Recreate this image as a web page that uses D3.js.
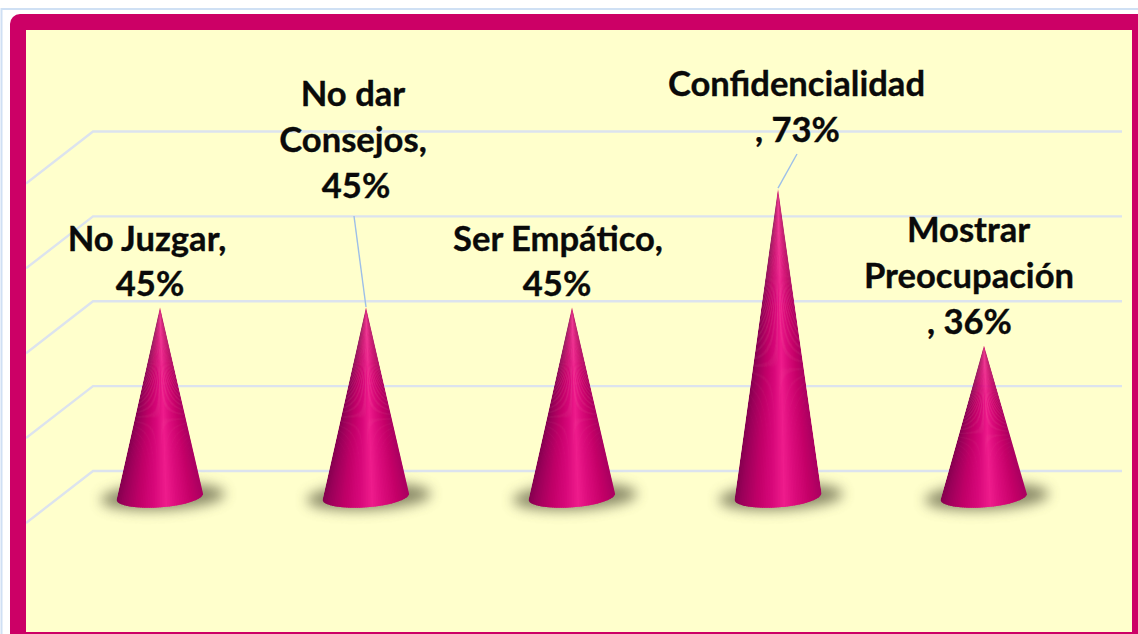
<!DOCTYPE html>
<html><head><meta charset="utf-8">
<script src="https://d3js.org/d3.v7.min.js"></script>
<style>html,body{margin:0;padding:0;background:#fff;overflow:hidden}svg{display:block}
text{font-family:Lato,"Open Sans",sans-serif;font-weight:700;fill:#0a0a0a;stroke:#0a0a0a;stroke-width:.35px}</style></head>
<body><svg id="c" width="1138" height="634"></svg>
<script>
const categories=["No Juzgar","No dar Consejos","Ser Empático","Confidencialidad","Mostrar Preocupación"];
const values=[45,45,45,73,36];
const gridValues=[0,20,40,60,80];
const labelLines=[["No Juzgar,","45%"],["No dar","Consejos,","45%"],["Ser Empático,","45%"],["Confidencialidad",", 73%"],["Mostrar","Preocupación",", 36%"]];

// layout of the labels
const labelBaselines=[[251,296],[106,152,198],[251,296],[96,142],[242,288,334]];
const labelCenters=[[147,150],[353,353,356],[558,557],[796.5,797.5],[968.5,969,969.5]];
const leaderStarts=[null,[354,216],null,[797,154],null];

const svg=d3.select("#c");
const defs=svg.append("defs");
const y=d3.scaleLinear().domain([0,80]).range([500,160.5]);
const x=d3.scaleBand().domain(categories).range([57,1087]).padding(0);
const depthX=67,depthY=29,halfW=43.5,step=1/50,tipLift=2;

// shading of the cone surface, left to right
const shade=d3.scaleLinear()
 .domain([0,.08,.25,.42,.56,.68,.85,1])
 .range(["#860050","#9c005a","#c00068","#d8087a","#ee1c8c","#dc0c7c","#c40068","#a80060"]);

defs.append("filter").attr("id","blur").attr("x","-30%").attr("y","-100%").attr("width","160%").attr("height","300%")
 .append("feGaussianBlur").attr("stdDeviation",6.5);
defs.append("clipPath").attr("id","plot")
 .append("rect").attr("x",26).attr("y",30).attr("width",1106).attr("height",602);

const conePath=i=>{const top=y(values[i])-y(0)-tipLift;
  return `M0,${top}L${halfW},-7A${halfW},10.8 -4.6 0 1 ${-halfW},0Z`;};
categories.forEach((c,i)=>defs.append("clipPath").attr("id","cone"+i).append("path").attr("d",conePath(i)));

// outer page rule and frame
svg.append("path").attr("d","M1.5,634V9H1138").attr("fill","none").attr("stroke","#cfe0f4").attr("stroke-width",2);
svg.append("path").attr("d","M10,634V24a10,10 0 0 1 10,-10H1138V634Z").attr("fill","#cc0066");
svg.append("rect").attr("x",26).attr("y",30).attr("width",1106).attr("height",602).attr("fill","#ffffcc");

// gridlines (back wall + side wall)
const plot=svg.append("g").attr("clip-path","url(#plot)");
plot.selectAll("path.grid").data(gridValues).join("path").attr("class","grid")
 .attr("fill","none").attr("stroke","#dce3ee").attr("stroke-width",2.4)
 .attr("d",v=>{const b=y(v)-depthY;return `M26,${b+52}L${26+depthX},${b}H1122`;});

// cones
const cones=svg.selectAll("g.cone").data(categories).join("g").attr("class","cone")
 .attr("transform",c=>`translate(${x(c)+x.bandwidth()/2},${y(0)})`);
cones.append("ellipse").attr("cx",3).attr("cy",-3).attr("rx",62).attr("ry",13)
 .attr("transform","rotate(-3)").attr("fill","#5c5c40").attr("opacity",.72).attr("filter","url(#blur)");
const slices=d3.range(0,1,step);
cones.append("g").attr("clip-path",(c,i)=>`url(#cone${i})`).each(function(c,i){
  const top=y(values[i])-y(0)-tipLift, foot=20, k=(foot-top)/(-top);
  const px=t=>(-halfW+t*2*halfW)*k;
  d3.select(this).selectAll("path").data(slices).join("path")
   .attr("fill",t=>shade(t))
   .attr("d",t=>`M0,${top}L${px(t)},${foot}L${px(t+step*1.6)},${foot}Z`);
});

// labels
const lab=svg.selectAll("g.lab").data(categories).join("g").attr("class","lab");
lab.each(function(c,i){
  d3.select(this).selectAll("text").data(labelLines[i]).join("text")
   .attr("x",(d,k)=>labelCenters[i][k]).attr("y",(d,k)=>labelBaselines[i][k])
   .attr("text-anchor","middle").attr("font-size",34.6).text(d=>d);
});
// leader lines
svg.selectAll("line.lead").data(categories.filter((c,i)=>leaderStarts[i])).join("line").attr("class","lead")
 .attr("stroke","#9dbfe8").attr("stroke-width",1.4)
 .attr("x1",c=>leaderStarts[categories.indexOf(c)][0]).attr("y1",c=>leaderStarts[categories.indexOf(c)][1])
 .attr("x2",c=>x(c)+x.bandwidth()/2).attr("y2",c=>y(values[categories.indexOf(c)])-2);
</script></body></html>
